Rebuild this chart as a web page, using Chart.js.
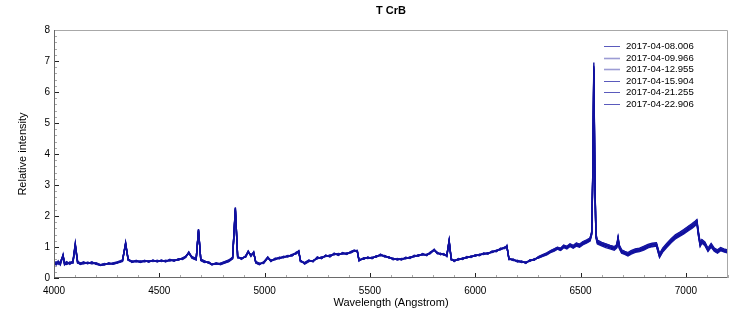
<!DOCTYPE html>
<html>
<head>
<meta charset="utf-8">
<title>T CrB</title>
<script src="https://cdn.jsdelivr.net/npm/chart.js@4.4.1/dist/chart.umd.min.js"></script>
<style>
  html, body { margin: 0; padding: 0; background: #fff; }
  #wrap { width: 750px; height: 326px; }
</style>
</head>
<body>
<div id="wrap"><canvas id="spectrumChart" width="750" height="326"></canvas></div>
<script>
// Wavelength grid (Angstrom), shared by all spectra
const wavelengths = [
  4000,4010,4020,4030,4043,4050,4060,4075,4090,4101,4112,4125,
  4140,4160,4180,4200,4220,4240,4260,4280,4300,4325,4340,4352,
  4370,4390,4410,4430,4450,4470,4490,4510,4530,4550,4570,4590,
  4610,4625,4640,4655,4675,4686,4697,4715,4735,4750,4770,4790,
  4810,4830,4848,4861,4872,4890,4910,4922,4935,4948,4958,4975,
  4995,5015,5030,5050,5070,5090,5110,5130,5150,5162,5170,5190,
  5210,5230,5250,5270,5290,5310,5330,5350,5370,5390,5410,5425,
  5440,5448,5470,5490,5510,5530,5550,5570,5590,5610,5630,5650,
  5670,5690,5710,5730,5750,5770,5785,5805,5820,5835,5850,5865,
  5876,5886,5900,5920,5940,5960,5980,6000,6020,6040,6060,6080,
  6100,6120,6140,6150,6160,6180,6200,6220,6240,6260,6280,6300,
  6320,6340,6360,6375,6390,6405,6420,6435,6450,6465,6480,6495,
  6510,6530,6545,6553,6558,6563,6568,6573,6580,6600,6620,6640,
  6660,6672,6678,6684,6695,6710,6725,6740,6760,6780,6800,6820,
  6840,6860,6875,6890,6910,6930,6950,6970,6990,7010,7030,7045,
  7052,7060,7068,7076,7090,7105,7120,7135,7150,7165,7180,7200
];

const labels = ['2017-04-08.006', '2017-04-09.966', '2017-04-12.955',
                '2017-04-15.904', '2017-04-21.255', '2017-04-22.906'];

const spec0408 = [
  0.50,0.42,0.55,0.45,0.76,0.45,0.50,0.47,0.55,1.12,0.52,0.45,
  0.50,0.48,0.50,0.46,0.40,0.44,0.47,0.46,0.50,0.55,1.15,0.60,
  0.52,0.55,0.52,0.55,0.53,0.56,0.54,0.56,0.54,0.58,0.56,0.60,
  0.62,0.68,0.84,0.66,0.60,1.58,0.58,0.52,0.50,0.42,0.47,0.45,
  0.50,0.55,0.65,2.28,0.68,0.62,0.70,0.87,0.72,0.82,0.50,0.45,
  0.50,0.68,0.55,0.62,0.64,0.68,0.70,0.74,0.80,0.88,0.55,0.48,
  0.56,0.54,0.66,0.64,0.72,0.70,0.78,0.75,0.80,0.78,0.84,0.90,
  0.86,0.58,0.62,0.66,0.64,0.70,0.74,0.71,0.66,0.62,0.60,0.61,
  0.64,0.66,0.70,0.73,0.76,0.75,0.80,0.93,0.80,0.78,0.76,0.72,
  1.22,0.60,0.56,0.60,0.63,0.66,0.69,0.72,0.75,0.78,0.80,0.84,
  0.88,0.93,0.98,1.02,0.62,0.58,0.55,0.52,0.50,0.56,0.60,0.66,
  0.72,0.78,0.86,0.90,0.96,0.92,1.02,0.98,1.06,1.00,1.08,1.04,
  1.12,1.18,1.24,1.45,3.40,6.95,3.20,1.35,1.15,1.10,1.05,1.00,
  0.96,1.02,1.28,1.00,0.85,0.80,0.76,0.82,0.88,0.90,0.96,1.02,
  1.06,1.08,0.72,0.90,1.05,1.20,1.32,1.40,1.48,1.58,1.68,1.76,
  1.82,1.40,1.08,1.18,1.10,0.90,1.05,0.90,0.85,0.92,0.88,0.84
];

const spec0409 = [
  0.46,0.50,0.44,0.52,0.70,0.50,0.46,0.52,0.50,1.05,0.48,0.49,
  0.47,0.51,0.47,0.49,0.43,0.47,0.44,0.49,0.52,0.58,1.10,0.57,
  0.55,0.52,0.55,0.52,0.56,0.53,0.57,0.53,0.57,0.55,0.59,0.57,
  0.64,0.70,0.80,0.68,0.62,1.52,0.60,0.54,0.48,0.45,0.45,0.48,
  0.52,0.57,0.66,2.20,0.66,0.64,0.68,0.84,0.74,0.80,0.52,0.47,
  0.48,0.65,0.57,0.60,0.66,0.66,0.72,0.72,0.82,0.86,0.57,0.46,
  0.54,0.56,0.63,0.67,0.70,0.73,0.76,0.78,0.78,0.80,0.82,0.88,
  0.88,0.56,0.64,0.64,0.66,0.68,0.76,0.69,0.68,0.60,0.62,0.59,
  0.66,0.64,0.72,0.71,0.78,0.73,0.82,0.90,0.82,0.76,0.78,0.70,
  1.18,0.62,0.54,0.62,0.61,0.68,0.67,0.74,0.73,0.80,0.78,0.86,
  0.86,0.95,0.96,1.04,0.60,0.60,0.53,0.54,0.48,0.58,0.58,0.68,
  0.74,0.80,0.88,0.93,0.98,0.95,1.05,1.01,1.09,1.04,1.12,1.08,
  1.16,1.22,1.28,1.50,3.30,6.70,3.10,1.40,1.20,1.14,1.09,1.04,
  1.00,1.06,1.30,1.04,0.89,0.84,0.80,0.86,0.92,0.94,1.00,1.06,
  1.10,1.12,0.76,0.94,1.10,1.25,1.37,1.45,1.54,1.64,1.74,1.82,
  1.86,1.45,1.12,1.22,1.14,0.94,1.09,0.94,0.89,0.96,0.92,0.88
];

const spec0412 = [
  0.53,0.45,0.50,0.42,0.72,0.48,0.53,0.44,0.52,1.08,0.55,0.47,
  0.52,0.46,0.52,0.44,0.42,0.42,0.49,0.44,0.48,0.53,1.12,0.62,
  0.50,0.57,0.50,0.57,0.51,0.58,0.52,0.58,0.52,0.60,0.54,0.62,
  0.60,0.66,0.82,0.64,0.58,1.55,0.56,0.50,0.52,0.44,0.49,0.43,
  0.48,0.53,0.63,2.25,0.70,0.60,0.72,0.85,0.70,0.84,0.48,0.43,
  0.52,0.66,0.53,0.64,0.62,0.70,0.68,0.76,0.78,0.86,0.53,0.50,
  0.58,0.52,0.68,0.62,0.74,0.68,0.80,0.73,0.82,0.76,0.86,0.88,
  0.84,0.60,0.60,0.68,0.62,0.72,0.72,0.73,0.64,0.64,0.58,0.63,
  0.62,0.68,0.68,0.75,0.74,0.77,0.78,0.91,0.78,0.80,0.74,0.74,
  1.20,0.58,0.58,0.58,0.65,0.64,0.71,0.70,0.77,0.76,0.82,0.82,
  0.90,0.91,1.00,1.00,0.64,0.56,0.57,0.50,0.52,0.54,0.62,0.64,
  0.70,0.75,0.83,0.87,0.93,0.89,0.98,0.94,1.02,0.96,1.03,0.99,
  1.07,1.13,1.19,1.40,3.45,6.85,3.25,1.30,1.10,1.04,0.98,0.94,
  0.90,0.97,1.24,0.95,0.80,0.76,0.71,0.77,0.83,0.85,0.90,0.97,
  1.01,1.03,0.66,0.84,0.99,1.14,1.26,1.34,1.42,1.52,1.61,1.69,
  1.76,1.34,1.02,1.12,1.05,0.86,1.00,0.86,0.80,0.88,0.84,0.80
];

const spec0415 = [
  0.48,0.52,0.47,0.50,0.74,0.42,0.48,0.50,0.48,1.10,0.50,0.44,
  0.48,0.50,0.48,0.47,0.41,0.46,0.45,0.48,0.49,0.56,1.13,0.58,
  0.53,0.54,0.53,0.54,0.54,0.55,0.55,0.55,0.55,0.57,0.57,0.59,
  0.63,0.67,0.83,0.67,0.61,1.56,0.59,0.53,0.49,0.43,0.48,0.46,
  0.51,0.56,0.64,2.26,0.67,0.63,0.69,0.86,0.73,0.81,0.51,0.46,
  0.49,0.67,0.56,0.61,0.65,0.67,0.71,0.73,0.81,0.87,0.56,0.47,
  0.55,0.55,0.65,0.65,0.71,0.71,0.77,0.76,0.79,0.79,0.83,0.89,
  0.87,0.57,0.63,0.65,0.65,0.69,0.75,0.70,0.67,0.61,0.61,0.60,
  0.65,0.65,0.71,0.72,0.77,0.74,0.81,0.92,0.81,0.77,0.77,0.71,
  1.21,0.61,0.55,0.61,0.62,0.67,0.68,0.73,0.74,0.79,0.79,0.85,
  0.87,0.94,0.97,1.03,0.61,0.59,0.54,0.53,0.49,0.57,0.59,0.67,
  0.73,0.79,0.87,0.91,0.97,0.93,1.03,0.99,1.07,1.01,1.09,1.05,
  1.13,1.19,1.25,1.44,3.20,6.60,3.05,1.36,1.16,1.11,1.06,1.01,
  0.97,1.04,1.27,1.01,0.87,0.82,0.77,0.84,0.90,0.92,0.98,1.04,
  1.08,1.10,0.74,0.92,1.08,1.22,1.34,1.42,1.50,1.61,1.71,1.79,
  1.84,1.42,1.10,1.19,1.12,0.92,1.07,0.92,0.87,0.94,0.90,0.86
];

const spec0421 = [
  0.44,0.48,0.52,0.47,0.72,0.47,0.44,0.49,0.53,1.06,0.49,0.46,
  0.46,0.49,0.46,0.48,0.42,0.45,0.46,0.47,0.51,0.54,1.09,0.59,
  0.51,0.56,0.51,0.56,0.52,0.57,0.53,0.57,0.53,0.59,0.55,0.61,
  0.61,0.69,0.81,0.65,0.59,1.54,0.57,0.51,0.51,0.44,0.46,0.44,
  0.49,0.54,0.62,2.22,0.69,0.61,0.71,0.85,0.71,0.83,0.49,0.44,
  0.51,0.66,0.54,0.63,0.63,0.69,0.69,0.75,0.79,0.85,0.54,0.49,
  0.57,0.53,0.67,0.63,0.73,0.69,0.79,0.74,0.81,0.77,0.85,0.87,
  0.85,0.59,0.61,0.67,0.63,0.71,0.73,0.72,0.65,0.63,0.59,0.62,
  0.63,0.67,0.69,0.74,0.75,0.76,0.79,0.90,0.79,0.79,0.75,0.73,
  1.19,0.59,0.57,0.59,0.64,0.65,0.70,0.71,0.76,0.77,0.81,0.83,
  0.89,0.92,0.99,1.01,0.63,0.57,0.56,0.51,0.51,0.55,0.61,0.65,
  0.71,0.76,0.84,0.88,0.94,0.90,1.00,0.96,1.04,0.98,1.05,1.01,
  1.09,1.15,1.21,1.42,3.35,6.80,3.15,1.32,1.12,1.07,1.02,0.97,
  0.93,0.99,1.25,0.97,0.82,0.78,0.73,0.80,0.85,0.87,0.93,0.99,
  1.03,1.05,0.68,0.86,1.02,1.17,1.29,1.37,1.45,1.55,1.64,1.72,
  1.78,1.37,1.04,1.15,1.07,0.88,1.02,0.88,0.82,0.90,0.86,0.82
];

const spec0422 = [
  0.52,0.44,0.49,0.51,0.70,0.46,0.51,0.46,0.51,1.04,0.53,0.48,
  0.49,0.47,0.51,0.45,0.43,0.43,0.48,0.45,0.49,0.57,1.08,0.61,
  0.54,0.53,0.54,0.53,0.55,0.54,0.56,0.54,0.56,0.56,0.58,0.58,
  0.65,0.69,0.79,0.69,0.63,1.50,0.61,0.55,0.47,0.46,0.44,0.47,
  0.53,0.58,0.67,2.18,0.65,0.65,0.67,0.83,0.75,0.79,0.53,0.48,
  0.47,0.64,0.58,0.59,0.67,0.65,0.73,0.71,0.83,0.84,0.58,0.45,
  0.53,0.57,0.62,0.68,0.69,0.74,0.75,0.79,0.77,0.81,0.81,0.87,
  0.89,0.55,0.65,0.63,0.67,0.67,0.77,0.68,0.69,0.59,0.63,0.58,
  0.67,0.63,0.73,0.70,0.79,0.72,0.83,0.89,0.83,0.75,0.79,0.69,
  1.16,0.63,0.53,0.63,0.60,0.69,0.66,0.75,0.72,0.81,0.77,0.87,
  0.85,0.96,0.95,1.05,0.59,0.61,0.52,0.55,0.47,0.59,0.57,0.69,
  0.75,0.81,0.89,0.94,0.99,0.96,1.06,1.02,1.10,1.05,1.13,1.09,
  1.17,1.23,1.29,1.48,3.25,6.75,3.00,1.42,1.22,1.15,1.10,1.05,
  1.01,1.08,1.32,1.06,0.91,0.86,0.82,0.88,0.94,0.96,1.02,1.08,
  1.12,1.14,0.78,0.96,1.12,1.27,1.39,1.47,1.56,1.66,1.76,1.84,
  1.88,1.48,1.14,1.24,1.16,0.96,1.11,0.96,0.91,0.98,0.94,0.90
];

const spectra = [spec0408, spec0409, spec0412, spec0415, spec0421, spec0422];
const lineColors = ['#10109e', '#1a1aa6', '#1414a2', '#08089a', '#060698', '#0c0c9a'];
const legendColors = ['#5a5abc', '#9c9cd4', '#9c9cd4', '#5a5abc', '#5a5abc', '#5a5abc'];

// tick labels
const xTickValues = [4000, 4500, 5000, 5500, 6000, 6500, 7000];
const yTickValues = [0, 1, 2, 3, 4, 5, 6, 7, 8];

const FONT = "'Liberation Sans', Arial, sans-serif";
Chart.defaults.font.family = FONT;
Chart.defaults.color = '#000';

// frame, inward tick marks and the legend inside the plot
const frameTicksLegend = {
    id: 'frameTicksLegend',
    afterDatasetsDraw(chart) {
        const ctx = chart.ctx;
        const a = chart.chartArea;
        const xs = chart.scales.x;
        const ys = chart.scales.y;
        ctx.save();
        ctx.lineWidth = 1;

        for (let w = 4000; w <= 7200; w += 100) {
            const px = Math.round(xs.getPixelForValue(w)) + 0.5;
            const major = xTickValues.includes(w);
            ctx.strokeStyle = major ? '#222' : '#aaa';
            ctx.beginPath();
            ctx.moveTo(px, a.bottom);
            ctx.lineTo(px, a.bottom - (major ? 5 : 3));
            ctx.stroke();
        }
        for (let k = 0; k <= 40; k++) {
            const v = k / 5;
            const py = Math.round(ys.getPixelForValue(v)) + 0.5;
            const major = k % 5 === 0;
            ctx.strokeStyle = major ? '#222' : '#aaa';
            ctx.beginPath();
            ctx.moveTo(a.left, py);
            ctx.lineTo(a.left + (major ? 5 : 3), py);
            ctx.stroke();
        }

        // plot frame
        const l = Math.round(a.left) + 0.5, r = Math.round(a.right) - 0.5;
        const t = Math.round(a.top) + 0.5, b = Math.round(a.bottom) - 0.5;
        ctx.strokeStyle = '#a8a8a8';
        ctx.beginPath();
        ctx.moveTo(l, t); ctx.lineTo(r, t); ctx.lineTo(r, b);
        ctx.stroke();
        ctx.strokeStyle = '#6a6a6a';
        ctx.beginPath();
        ctx.moveTo(l, t); ctx.lineTo(l, b); ctx.lineTo(r, b);
        ctx.stroke();

        // legend
        const lx = a.right - 124;
        const ly = a.top + 16;
        ctx.font = '9.6px ' + FONT;
        ctx.textBaseline = 'middle';
        ctx.textAlign = 'left';
        chart.data.datasets.forEach((ds, i) => {
            const y = Math.round(ly + i * 11.6) + 0.5;
            ctx.strokeStyle = legendColors[i];
            ctx.lineWidth = (i === 1 || i === 2) ? 1.6 : 1;
            ctx.beginPath();
            ctx.moveTo(lx, y);
            ctx.lineTo(lx + 16, y);
            ctx.stroke();
            ctx.fillStyle = '#000';
            ctx.fillText(ds.label, lx + 22, y);
        });
        ctx.restore();
    }
};

const ctx = document.getElementById('spectrumChart').getContext('2d');
const spectrumChart = new Chart(ctx, {
    type: 'line',
    data: {
        datasets: spectra.map((s, i) => ({
            label: labels[i],
            data: wavelengths.map((w, j) => ({ x: w, y: s[j] })),
            borderColor: lineColors[i],
            borderWidth: 1.4,
            pointRadius: 0,
            tension: 0,
            fill: false
        }))
    },
    options: {
        responsive: false,
        animation: false,
        devicePixelRatio: 1,
        layout: { padding: { left: 0, right: 22, top: 0, bottom: 0 } },
        plugins: {
            legend: { display: false },
            tooltip: { enabled: false },
            title: {
                display: true,
                text: 'T CrB',
                fullSize: false,
                color: '#000',
                font: { size: 11, weight: 'bold' },
                padding: { top: 4, bottom: 12.8 }
            }
        },
        scales: {
            x: {
                type: 'linear',
                min: 4000,
                max: 7200,
                grid: { display: false, drawTicks: false },
                border: { display: false },
                afterBuildTicks: s => { s.ticks = xTickValues.map(v => ({ value: v })); },
                afterFit: s => { s.height = 48; },
                ticks: {
                    padding: 7,
                    maxRotation: 0,
                    autoSkip: false,
                    font: { size: 10 },
                    callback: v => String(v)
                },
                title: {
                    display: true,
                    text: 'Wavelength (Angstrom)',
                    font: { size: 11 },
                    padding: { top: 0, bottom: 16 }
                }
            },
            y: {
                min: 0,
                max: 8,
                grid: { display: false, drawTicks: false },
                border: { display: false },
                afterBuildTicks: s => { s.ticks = yTickValues.map(v => ({ value: v })); },
                afterFit: s => { s.width = 54; },
                ticks: {
                    padding: 4,
                    font: { size: 10 },
                    callback: v => String(v)
                },
                title: {
                    display: true,
                    text: 'Relative intensity',
                    font: { size: 11 },
                    padding: { top: 16, bottom: 0 }
                }
            }
        }
    },
    plugins: [frameTicksLegend]
});
</script>
</body>
</html>
